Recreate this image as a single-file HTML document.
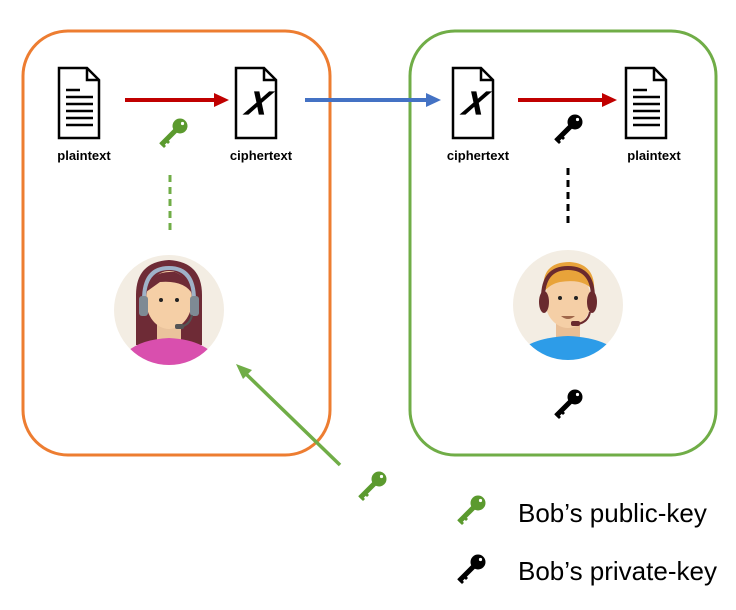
<!DOCTYPE html>
<html><head><meta charset="utf-8"><style>
html,body{margin:0;padding:0;background:#fff;}
svg{display:block;}
</style></head><body>
<svg width="736" height="610" viewBox="0 0 736 610" xmlns="http://www.w3.org/2000/svg">
<defs>
<symbol id="key" viewBox="0 0 32 32">
<circle cx="23" cy="9" r="7.5"/>
<path d="M22.8 12.8 L19.2 9.2 L2.2 26.2 L5.8 29.8 Z"/>
<path d="M5 25 L9 29 L7 31 L3 27Z M9 21 L13 25 L11 27 L7 23Z"/>
<circle cx="25.5" cy="6.5" r="1.6" fill="#fff"/>
</symbol>
<symbol id="doc" viewBox="0 0 44 74">
<path d="M2 2 H30 L42 14 V72 H2 Z" fill="#fff" stroke="#000" stroke-width="2.5"/>
<path d="M30 2 V14 H42" fill="none" stroke="#000" stroke-width="2.5"/>
</symbol>
</defs>
<rect x="23" y="31" width="307" height="424" rx="45" fill="none" stroke="#ED7D31" stroke-width="3"/>
<rect x="410" y="31" width="306" height="424" rx="45" fill="none" stroke="#70AD47" stroke-width="3"/>

<use href="#doc" x="57" y="66" width="44" height="74"/>
<g stroke="#000" stroke-width="2.5"><line x1="66" y1="90" x2="80" y2="90"/><line x1="66" y1="97" x2="93" y2="97"/><line x1="66" y1="104" x2="93" y2="104"/><line x1="66" y1="111" x2="93" y2="111"/><line x1="66" y1="118" x2="93" y2="118"/><line x1="66" y1="125" x2="93" y2="125"/></g>
<use href="#doc" x="234" y="66" width="44" height="74"/>
<text x="256" y="114" font-family="Liberation Serif,serif" font-style="italic" font-weight="bold" font-size="42" text-anchor="middle">𝑥</text>
<use href="#doc" x="451" y="66" width="44" height="74"/>
<text x="473" y="114" font-family="Liberation Serif,serif" font-style="italic" font-weight="bold" font-size="42" text-anchor="middle">𝑥</text>
<use href="#doc" x="624" y="66" width="44" height="74"/>
<g stroke="#000" stroke-width="2.5"><line x1="633" y1="90" x2="647" y2="90"/><line x1="633" y1="97" x2="660" y2="97"/><line x1="633" y1="104" x2="660" y2="104"/><line x1="633" y1="111" x2="660" y2="111"/><line x1="633" y1="118" x2="660" y2="118"/><line x1="633" y1="125" x2="660" y2="125"/></g>

<g font-family="Liberation Sans,sans-serif" font-weight="bold" font-size="13" text-anchor="middle">
<text x="84" y="160">plaintext</text><text x="261" y="160">ciphertext</text>
<text x="478" y="160">ciphertext</text><text x="654" y="160">plaintext</text>
</g>

<line x1="125" y1="100" x2="216" y2="100" stroke="#C00000" stroke-width="4"/><path d="M214 93 L229 100 L214 107Z" fill="#C00000"/>
<line x1="305" y1="100" x2="428" y2="100" stroke="#4472C4" stroke-width="4"/><path d="M426 93 L441 100 L426 107Z" fill="#4472C4"/>
<line x1="518" y1="100" x2="604" y2="100" stroke="#C00000" stroke-width="4"/><path d="M602 93 L617 100 L602 107Z" fill="#C00000"/>

<use href="#key" x="157" y="117" width="32" height="32" fill="#5B9A2E"/>
<use href="#key" x="552" y="113" width="32" height="32" fill="#000"/>
<use href="#key" x="552" y="388" width="32" height="32" fill="#000"/>
<use href="#key" x="356" y="470" width="32" height="32" fill="#5B9A2E"/>
<use href="#key" x="455" y="494" width="32" height="32" fill="#5B9A2E"/>
<use href="#key" x="455" y="553" width="32" height="32" fill="#000"/>

<line x1="170" y1="175" x2="170" y2="230" stroke="#70AD47" stroke-width="3" stroke-dasharray="7,5"/>
<line x1="568" y1="168" x2="568" y2="226" stroke="#000" stroke-width="3" stroke-dasharray="7,5"/>

<line x1="340" y1="465" x2="244" y2="372" stroke="#70AD47" stroke-width="3.5"/>
<path d="M236 364 L252 370 L243 379Z" fill="#70AD47"/>

<clipPath id="c1"><circle cx="169" cy="310" r="55"/></clipPath>
<circle cx="169" cy="310" r="55" fill="#F3EDE3"/>
<g clip-path="url(#c1)">
<path d="M136 345 V295 Q136 262 169 260 Q202 262 202 295 V345Z" fill="#6E2B36"/>
<rect x="157" y="320" width="24" height="25" fill="#EAC39C"/>
<path d="M115 370 Q125 340 169 338 Q213 340 223 370Z" fill="#D94FAE"/>
<ellipse cx="169" cy="300" rx="23" ry="29" fill="#F5CFA6"/>
<path d="M146 292 Q150 270 175 272 Q190 278 193 295 Q185 280 160 282Z" fill="#6E2B36"/>
<path d="M144 300 Q144 268 169 268 Q194 268 194 300" fill="none" stroke="#9FB2C8" stroke-width="4"/>
<rect x="139" y="296" width="9" height="20" rx="3" fill="#7E8A94"/>
<rect x="190" y="296" width="9" height="20" rx="3" fill="#7E8A94"/>
<circle cx="161" cy="300" r="2" fill="#222"/><circle cx="177" cy="300" r="2" fill="#222"/>
<path d="M192 315 Q190 325 180 327" fill="none" stroke="#555" stroke-width="2"/>
<rect x="175" y="324" width="9" height="5" rx="2" fill="#555"/>
</g>

<clipPath id="c2"><circle cx="568" cy="305" r="55"/></clipPath>
<circle cx="568" cy="305" r="55" fill="#F3EDE3"/>
<g clip-path="url(#c2)">
<rect x="556" y="318" width="24" height="25" fill="#E9BE95"/>
<path d="M510 365 Q520 338 568 336 Q616 338 626 365Z" fill="#2D9CE8"/>
<ellipse cx="568" cy="300" rx="23" ry="28" fill="#F5CFA6"/>
<path d="M544 292 Q540 262 570 262 Q596 264 594 292 Q585 278 560 282 Q550 284 544 292Z" fill="#E8A33A"/>
<path d="M543 298 Q543 268 568 268 Q593 268 593 298" fill="none" stroke="#6A2A2E" stroke-width="4"/>
<ellipse cx="544" cy="302" rx="5" ry="11" fill="#6A2A2E"/>
<ellipse cx="592" cy="302" rx="5" ry="11" fill="#6A2A2E"/>
<circle cx="560" cy="298" r="2" fill="#222"/><circle cx="576" cy="298" r="2" fill="#222"/>
<path d="M561 316 Q568 322 575 316Z" fill="#A0674A"/>
<path d="M590 312 Q588 322 578 324" fill="none" stroke="#6A2A2E" stroke-width="2"/>
<rect x="571" y="321" width="9" height="5" rx="2" fill="#6A2A2E"/>
</g>

<g font-family="Liberation Sans,sans-serif" font-size="26" fill="#000">
<text x="518" y="522">Bob’s public-key</text>
<text x="518" y="580">Bob’s private-key</text>
</g>
</svg>
</body></html>
